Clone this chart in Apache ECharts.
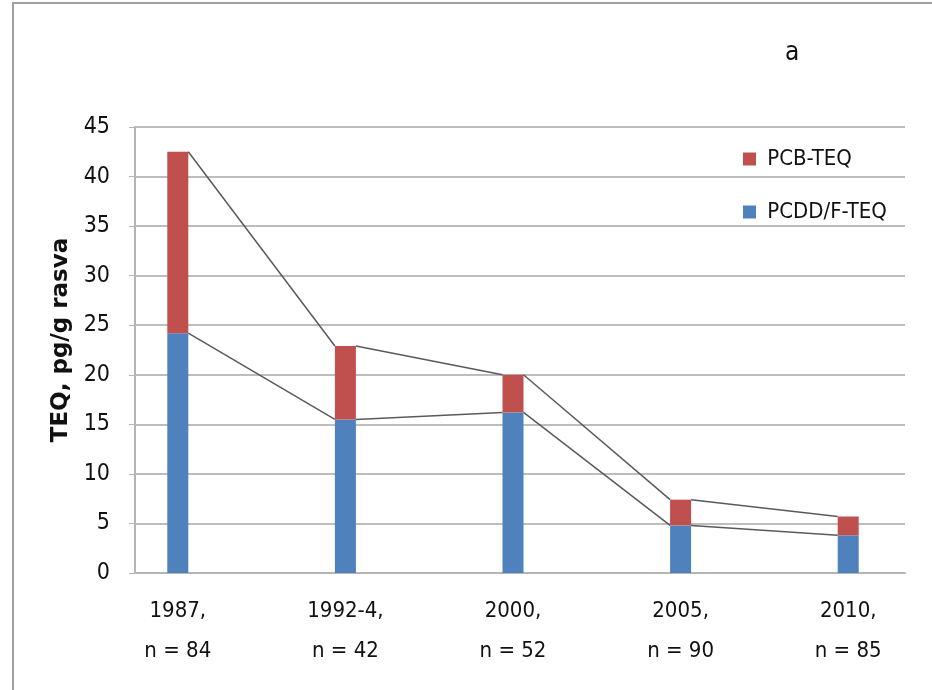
<!DOCTYPE html>
<html>
<head>
<meta charset="utf-8">
<script src="https://cdn.jsdelivr.net/npm/echarts@6/dist/echarts.min.js"></script>
<style>
html,body{margin:0;padding:0;background:#fff;}
#chart{width:932px;height:690px;}
</style>
</head>
<body>
<div id="chart"></div>
<script>
// ---- data ----
var categories = ['1987,\nn = 84', '1992-4,\nn = 42', '2000,\nn = 52', '2005,\nn = 90', '2010,\nn = 85'];
var pcddTEQ = [24.2, 15.5, 16.2, 4.8, 3.8];
var pcbTEQ  = [18.3, 7.4, 3.8, 2.6, 1.9];
var yTicks  = [0, 5, 10, 15, 20, 25, 30, 35, 40, 45];

var FONT = '"DejaVu Sans Condensed", "Open Sans", sans-serif';
var NAME_FONT = '"DejaVu Sans", sans-serif';
var BLUE = '#4F81BD', RED = '#C0504D';
var BAR_W = 21;

var totals = pcddTEQ.map(function (v, i) { return v + pcbTEQ[i]; });

function seriesLineData(vals) {
  var d = [];
  for (var i = 0; i < vals.length - 1; i++) d.push([i, vals[i], vals[i + 1]]);
  return d;
}
function renderSeriesLine(params, api) {
  var i = api.value(0);
  var p1 = api.coord([i, api.value(1)]);
  var p2 = api.coord([i + 1, api.value(2)]);
  return {
    type: 'line',
    shape: { x1: p1[0] + BAR_W / 2, y1: p1[1], x2: p2[0] - BAR_W / 2, y2: p2[1] },
    style: { stroke: '#5a5a5a', lineWidth: 1.5 }
  };
}

var chart = echarts.init(document.getElementById('chart'));
chart.setOption({
  backgroundColor: '#fff',
  animation: false,
  textStyle: { fontFamily: FONT },
  graphic: [
    { type: 'polyline', shape: { points: [[13, 690], [13, 3], [932, 3]] }, style: { stroke: '#a0a0a0', lineWidth: 2, fill: null }, z: 0 },
    { type: 'text', left: 785, top: 40, style: { text: 'a', font: '26px ' + FONT, fill: '#111' } }
  ],
  legend: {
    orient: 'vertical',
    left: 738, top: 143,
    itemWidth: 13, itemHeight: 13, itemGap: 31,
    icon: 'rect',
    formatter: function (n) { return ' ' + n; },
    textStyle: { fontSize: 22, color: '#111', fontFamily: FONT },
    data: ['PCB-TEQ', 'PCDD/F-TEQ']
  },
  grid: [
    { left: 135, right: 27, top: 127, bottom: 117 },
    { left: 94, width: 846, top: 127, bottom: 117 }
  ],
  xAxis: [
    {
      gridIndex: 0, type: 'value', min: 0, max: 1,
      axisLine: { show: true, onZero: false, lineStyle: { color: '#b5b5b5', width: 2 } },
      axisTick: { show: false }, axisLabel: { show: false }, splitLine: { show: false }
    },
    {
      gridIndex: 1, type: 'category', data: categories,
      axisLine: { show: false }, axisTick: { show: false },
      axisLabel: { margin: 18, fontSize: 22, lineHeight: 40, color: '#111', fontFamily: FONT, interval: 0 }
    }
  ],
  yAxis: [
    {
      gridIndex: 0, type: 'value', min: yTicks[0], max: yTicks[yTicks.length - 1], interval: 5,
      name: 'TEQ, pg/g rasva', nameLocation: 'middle', nameGap: 62,
      nameTextStyle: { fontSize: 23, fontWeight: 'bold', color: '#111', fontFamily: NAME_FONT, padding: [0, 0, 0, 20] },
      axisLine: { show: true, lineStyle: { color: '#b5b5b5', width: 2 } },
      axisTick: { show: true, length: 6, lineStyle: { color: '#b5b5b5' } },
      axisLabel: { fontSize: 23, color: '#111', margin: 25, fontFamily: FONT, padding: [6, 0, 0, 0] },
      splitLine: { lineStyle: { color: '#bdbdbd', width: 2 } }
    },
    {
      gridIndex: 1, type: 'value', min: 0, max: 45,
      show: false, splitLine: { show: false }
    }
  ],
  series: [
    {
      name: 'PCDD/F-TEQ', type: 'bar', stack: 'teq', xAxisIndex: 1, yAxisIndex: 1,
      barWidth: BAR_W, itemStyle: { color: BLUE }, data: pcddTEQ, z: 3
    },
    {
      name: 'PCB-TEQ', type: 'bar', stack: 'teq', xAxisIndex: 1, yAxisIndex: 1,
      barWidth: BAR_W, itemStyle: { color: RED }, data: pcbTEQ, z: 3
    },
    {
      type: 'custom', xAxisIndex: 1, yAxisIndex: 1, renderItem: renderSeriesLine,
      data: seriesLineData(pcddTEQ), z: 4, silent: true
    },
    {
      type: 'custom', xAxisIndex: 1, yAxisIndex: 1, renderItem: renderSeriesLine,
      data: seriesLineData(totals), z: 4, silent: true
    }
  ]
});
</script>
</body>
</html>
